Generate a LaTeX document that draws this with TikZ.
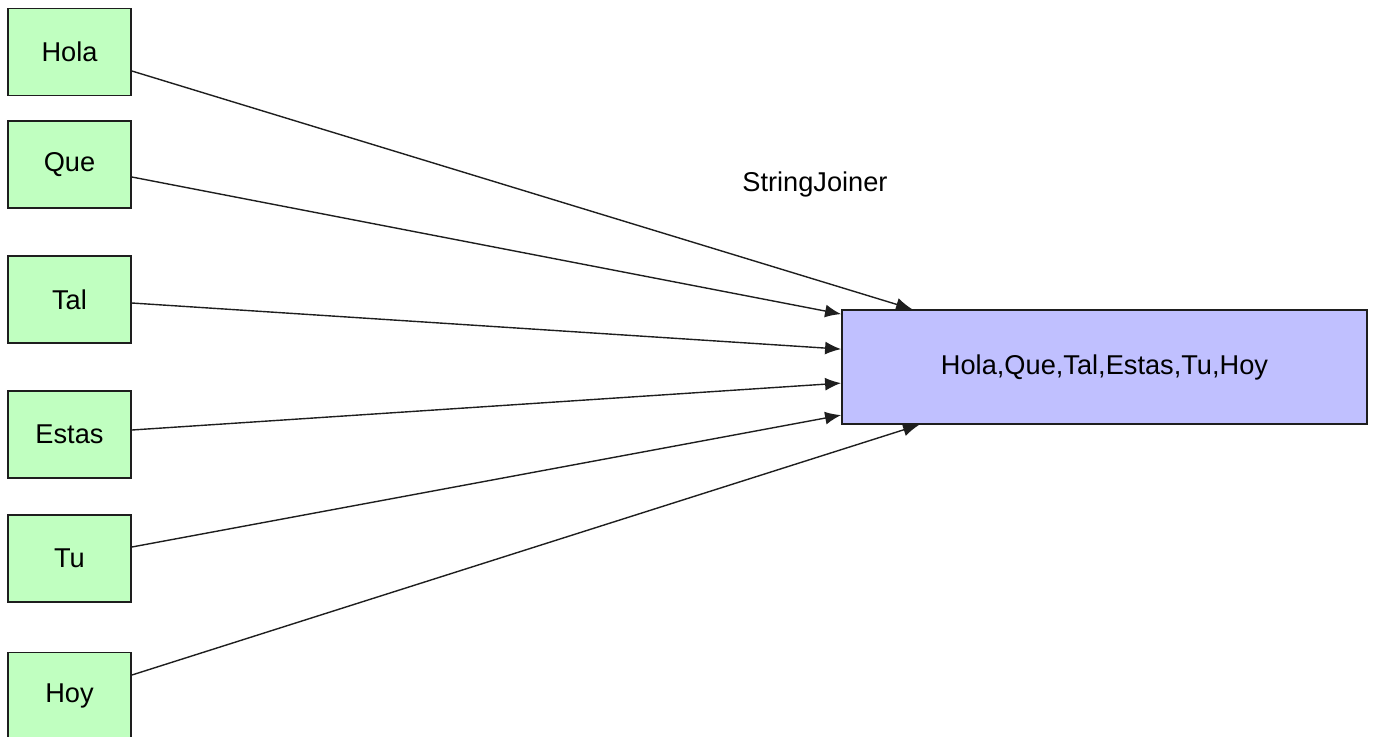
\documentclass[tikz,border=0pt]{standalone}
\usepackage{fontspec}
\setmainfont{Liberation Sans}
\usetikzlibrary{arrows.meta}
\definecolor{boxgreen}{RGB}{192,255,192}
\definecolor{boxblue}{RGB}{192,192,255}
\definecolor{inkline}{RGB}{30,30,30}
\tikzset{
  word/.style={draw=inkline, line width=0.9pt, fill=boxgreen, minimum width=61.5pt, minimum height=43.5pt, inner sep=0pt, font=\fontsize{13.6}{16}\selectfont},
  result/.style={draw=inkline, line width=0.9pt, fill=boxblue, minimum width=262.5pt, minimum height=57pt, inner sep=0pt, font=\fontsize{13.6}{16}\selectfont},
  conn/.style={draw=inkline, line width=0.7pt, -{Latex[length=8pt,width=6.5pt]}},
  lbl/.style={font=\fontsize{13.6}{16}\selectfont}
}
\begin{document}
\begin{tikzpicture}[x=0.5pt,y=-0.5pt]
\useasboundingbox (0,0) rectangle (1373,736);
\clip (0,0) rectangle (1373,736);
\node[word] (hola) at (69.5,52) {Hola};
\node[word] (que) at (69.5,164.5) {Que};
\node[word] (tal) at (69.5,299.5) {Tal};
\node[word] (estas) at (69.5,434.5) {Estas};
\node[word] (tu) at (69.5,558.5) {Tu};
\node[word] (hoy) at (69.5,696) {Hoy};
\node[result] (big) at (1104.5,367) {Hola,Que,Tal,Estas,Tu,Hoy};
\node[lbl] (sj) at (815,184) {StringJoiner};
\draw[conn] ([yshift=-9.5pt]hola.east) -- ([xshift=35.5pt]big.north west);
\draw[conn] ([yshift=-6.25pt]que.east) -- ([yshift=-2.5pt]big.north west);
\draw[conn] ([yshift=-1.75pt]tal.east) -- ([yshift=-20pt]big.north west);
\draw[conn] ([yshift=2.25pt]estas.east) -- ([yshift=-37pt]big.north west);
\draw[conn] ([yshift=5.75pt]tu.east) -- ([yshift=-53pt]big.north west);
\draw[conn] ([yshift=10.5pt]hoy.east) -- ([xshift=39pt]big.south west);
\end{tikzpicture}
\end{document}
